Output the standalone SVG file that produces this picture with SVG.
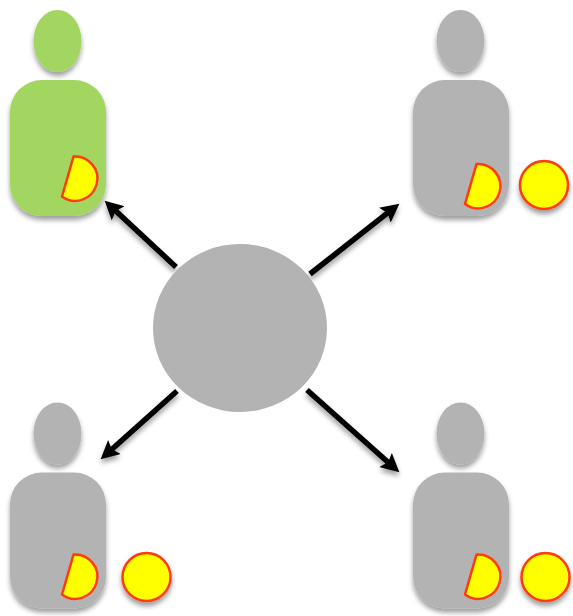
<svg xmlns="http://www.w3.org/2000/svg" width="573" height="616" viewBox="0 0 573 616">
<style>
.gray{fill:#b3b3b3}
.green{fill:#a2d660}
.tok{fill:#ffff00;stroke:#ff3b0a;stroke-width:2.500;stroke-linejoin:round}
.arrow{fill:none;stroke:#000;stroke-width:5.500;marker-end:url(#head)}
.sh{filter:url(#shadow)}
</style>
<defs>
<filter id="shadow" x="-30%" y="-30%" width="160%" height="160%">
<feDropShadow dx="0" dy="4" stdDeviation="2.500" flood-color="#000" flood-opacity="0.38"/>
</filter>
<marker id="head" markerUnits="userSpaceOnUse" markerWidth="22" markerHeight="22" refX="12" refY="11" orient="auto">
<path d="M0 1.500 L18.500 11 L0 20.500 L3.500 11 Z" fill="#000"/>
</marker>
<g id="person">
<ellipse cx="57.5" cy="41" rx="24" ry="31" class="sh"/>
<rect x="10" y="80" width="96" height="136" rx="32" ry="32" class="sh"/>
</g>
<path id="half" d="M73.5 156.5 A22.2 22.2 0 1 1 62 196.500 Z" class="tok"/>
</defs>
<g id="connectors" class="sh">
<path class="arrow" d="M176 267 L109.400 205.100"/>
<path class="arrow" d="M310 274 L394.300 207.700"/>
<path class="arrow" d="M177 391 L105.500 455"/>
<path class="arrow" d="M307 390 L394.500 468"/>
</g>
<g id="center"><ellipse cx="240" cy="328" rx="87" ry="84" class="gray"/></g>
<g id="person-top-left" class="green"><use href="#person"/><use href="#half"/></g>
<g id="person-top-right" class="gray"><use href="#person" x="403"/><use href="#half" x="403" y="7.500"/><circle cx="544" cy="185" r="24" class="tok sh"/></g>
<g id="person-bottom-left" class="gray"><use href="#person" y="392.500"/><use href="#half" y="398"/><circle cx="146.500" cy="577" r="24" class="tok sh"/></g>
<g id="person-bottom-right" class="gray"><use href="#person" x="403" y="392.500"/><use href="#half" x="403" y="398"/><circle cx="545.500" cy="577" r="24" class="tok sh"/></g>
</svg>
